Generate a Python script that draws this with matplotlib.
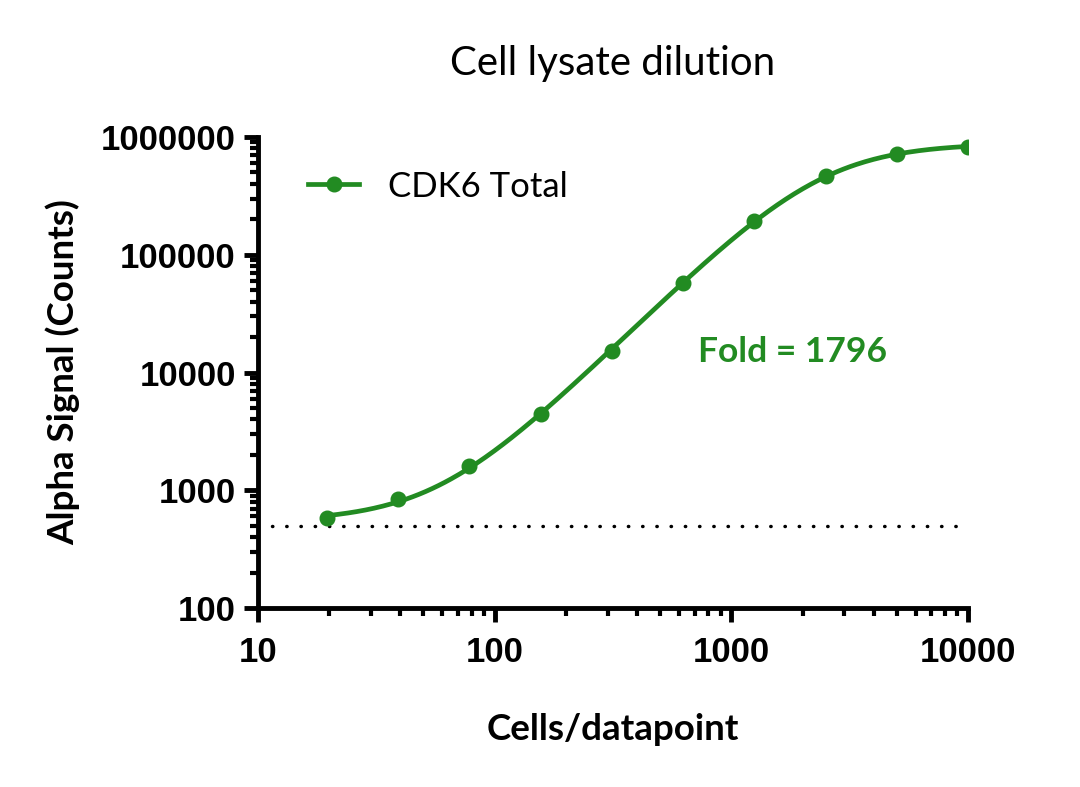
import numpy as np
import matplotlib
matplotlib.use("Agg")
import matplotlib.pyplot as plt
from matplotlib.ticker import LogLocator, NullFormatter, FixedLocator

# === Data ===
cells = np.array([19.53, 39.06, 78.13, 156.25, 312.5, 625, 1250, 2500, 5000, 10000])
signal = np.array([581, 843, 1607, 4445, 15240, 57500, 193700, 466600, 717000, 822000])
background = 500
fold_text = "Fold = 1796"
series_name = "CDK6 Total"

GREEN = "#228b22"


def four_pl(x, bottom, top, ec50, hill):
    return bottom + (top - bottom) / (1 + (ec50 / x) ** hill)


def fit_four_pl(x, y):
    # grid over EC50 / hill, bottom and top solved by weighted least squares
    best = None
    w = 1.0 / y
    for log_ec in np.linspace(2.0, 4.5, 251):
        ec = 10 ** log_ec
        for hill in np.linspace(0.6, 2.5, 191):
            f = 1 / (1 + (ec / x) ** hill)
            A = np.column_stack([1 - f, f]) * w[:, None]
            coef, *_ = np.linalg.lstsq(A, y * w, rcond=None)
            res = np.sum((A @ coef - y * w) ** 2)
            if best is None or res < best[0]:
                best = (res, coef[0], coef[1], ec, hill)
    return best[1:]


bottom, top, ec50, hill = fit_four_pl(cells, signal)
x_fit = np.logspace(np.log10(cells[0]), np.log10(cells[-1]), 300)
y_fit = four_pl(x_fit, bottom, top, ec50, hill)

fig = plt.figure(figsize=(10.8, 7.87), dpi=100)
ax = fig.add_axes([0.2389, 0.2274, 0.6574, 0.5985])

ax.plot(x_fit, y_fit, color=GREEN, linewidth=3.4, zorder=3)
ax.plot(cells, signal, "o", color=GREEN, markersize=10.5, zorder=4)
ax.plot([], [], "-o", color=GREEN, linewidth=3.4, markersize=10.5, label=series_name)

ax.hlines(background, 11.5, 9000, colors="black", linewidth=2.5,
          linestyles=(0, (0.1, 4)), capstyle="round")

ax.set_xscale("log")
ax.set_yscale("log")
ax.set_xlim(10, 10000)
ax.set_ylim(100, 1000000)

ax.xaxis.set_major_locator(FixedLocator([10, 100, 1000, 10000]))
ax.yaxis.set_major_locator(FixedLocator([100, 1000, 10000, 100000, 1000000]))
ax.set_xticklabels(["10", "100", "1000", "10000"])
ax.set_yticklabels(["100", "1000", "10000", "100000", "1000000"])
ax.xaxis.set_minor_locator(LogLocator(base=10, subs=np.arange(2, 10), numticks=20))
ax.yaxis.set_minor_locator(LogLocator(base=10, subs=np.arange(2, 10), numticks=20))
ax.xaxis.set_minor_formatter(NullFormatter())
ax.yaxis.set_minor_formatter(NullFormatter())

for side in ["top", "right"]:
    ax.spines[side].set_visible(False)
for side in ["left", "bottom"]:
    ax.spines[side].set_linewidth(3.5)

ax.tick_params(which="major", length=10, width=3.5, direction="out")
ax.tick_params(which="minor", length=6, width=3, direction="out")
ax.tick_params(axis="x", which="major", pad=10)
ax.tick_params(axis="y", which="major", pad=6)

for lab in ax.get_xticklabels() + ax.get_yticklabels():
    lab.set_fontfamily("Liberation Sans")
    lab.set_fontweight("bold")
    lab.set_fontsize(25)

ax.set_title("Cell lysate dilution", fontfamily="Lato", fontsize=29, pad=45)
ax.set_xlabel("Cells/datapoint", fontfamily="Lato", fontweight="bold", fontsize=26.5, labelpad=32)
ax.set_ylabel("Alpha Signal (Counts)", fontfamily="Lato", fontweight="bold", fontsize=26.5, labelpad=15)

ax.text(723, 14900, fold_text, color=GREEN, fontfamily="Lato", fontweight="bold",
        fontsize=25.5, ha="left", va="center")

leg = ax.legend(loc="upper left", frameon=False, handlelength=1.45,
                handletextpad=0.85, bbox_to_anchor=(0.027, 0.995),
                prop={"family": "Lato", "size": 25})

fig.savefig("out.png", dpi=100)
